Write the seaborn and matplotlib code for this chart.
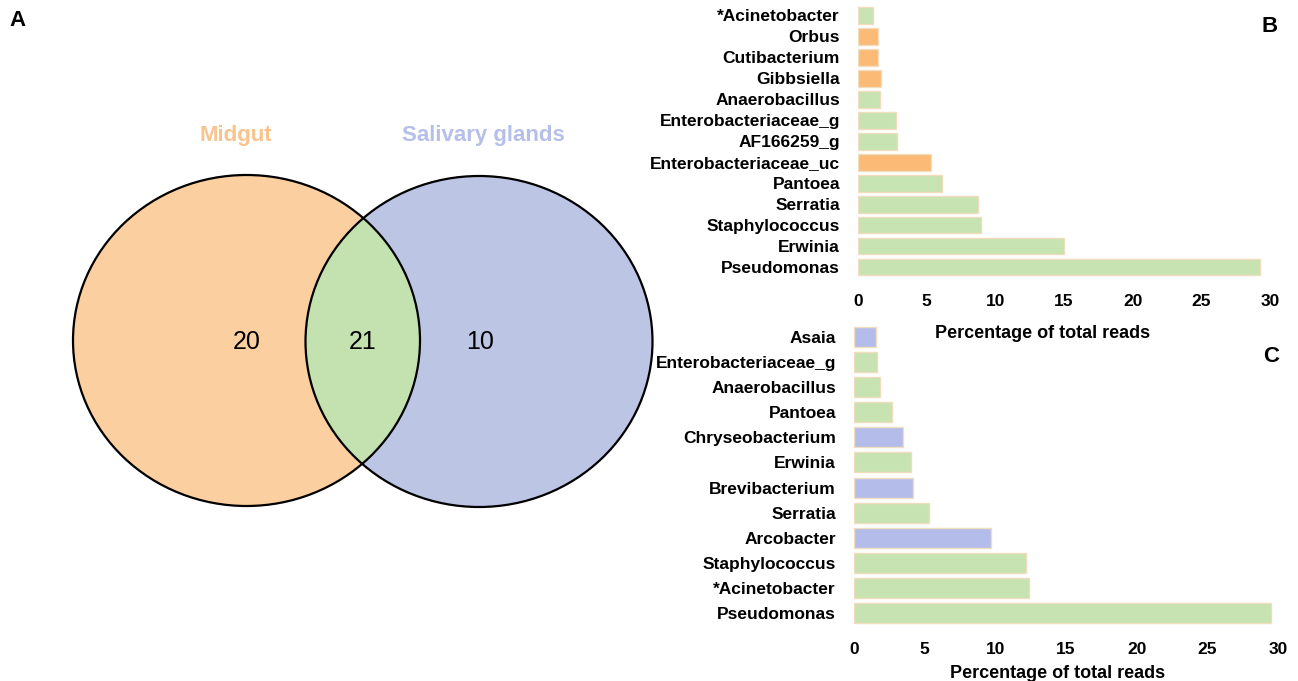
import numpy as np
import seaborn as sns
import matplotlib.pyplot as plt
from matplotlib.patches import Ellipse

# Venn counts
venn_sets = ["Midgut", "Salivary glands"]
venn_counts = [20, 21, 10]  # midgut only, shared, salivary only

# Panel B: midgut genera
b_genus = ["*Acinetobacter", "Orbus", "Cutibacterium", "Gibbsiella", "Anaerobacillus",
           "Enterobacteriaceae_g", "AF166259_g", "Enterobacteriaceae_uc", "Pantoea",
           "Serratia", "Staphylococcus", "Erwinia", "Pseudomonas"]
b_pct = [1.07, 1.42, 1.48, 1.64, 1.62, 2.8, 2.82, 5.28, 6.1, 8.74, 8.99, 15.0, 29.3]
b_group = ["shared", "midgut", "midgut", "midgut", "shared", "shared", "shared",
           "midgut", "shared", "shared", "shared", "shared", "shared"]

# Panel C: salivary gland genera
c_genus = ["Asaia", "Enterobacteriaceae_g", "Anaerobacillus", "Pantoea", "Chryseobacterium",
           "Erwinia", "Brevibacterium", "Serratia", "Arcobacter", "Staphylococcus",
           "*Acinetobacter", "Pseudomonas"]
c_pct = [1.54, 1.63, 1.84, 2.67, 3.5, 4.0, 4.15, 5.3, 9.66, 12.18, 12.4, 29.47]
c_group = ["salivary", "shared", "shared", "shared", "salivary", "shared", "salivary",
           "shared", "salivary", "shared", "shared", "shared"]

bar_colors = {"shared": "#C6E3B1", "midgut": "#FBBA75", "salivary": "#B4BDEA"}

sns.set_theme(style="white")
plt.rcParams['font.family'] = ['Liberation Sans', 'DejaVu Sans']
plt.rcParams.update({"text.color": "black", "axes.labelcolor": "black",
                     "xtick.color": "black", "ytick.color": "black"})

W, H = 1298, 681
fig = plt.figure(figsize=(W / 100, H / 100), dpi=100)

# ---- A: Venn diagram (pixel coordinates) ----
ax_v = fig.add_axes([0, 0, 670 / W, 1])
ax_v.set_xlim(0, 670)
ax_v.set_ylim(H, 0)
ax_v.axis("off")
left = Ellipse((246.5, 340.5), 347, 331, facecolor="#FBCF9F", edgecolor="none")
right = Ellipse((479, 341.5), 346, 331, facecolor="#BDC5E5", edgecolor="none")
ax_v.add_patch(left)
ax_v.add_patch(right)
lens = Ellipse((479, 341.5), 346, 331, facecolor="#C3E2AF", edgecolor="none")
ax_v.add_patch(lens)
lens.set_clip_path(left)
for c in [(246.5, 340.5), (479, 341.5)]:
    ax_v.add_patch(Ellipse(c, 347, 331, facecolor="none", edgecolor="black", lw=1.6))
ax_v.text(235.5, 135, venn_sets[0], color="#F8C38C", fontsize=16, fontweight="bold",
          ha="center", va="center")
ax_v.text(483, 135, venn_sets[1], color="#B6BFE9", fontsize=16, fontweight="bold",
          ha="center", va="center")
for xpos, n in zip([247, 362.5, 480], venn_counts):
    ax_v.text(xpos, 342, str(n), fontsize=18, ha="center", va="center")
fig.text(18 / W, 1 - 20 / H, "A", fontsize=16, fontweight="bold", ha="center", va="center")


def bar_panel(ax, genus, pct, group, xlab_x, xlab_y):
    sns.barplot(x=pct, y=genus, hue=group, palette=bar_colors, orient="h", width=0.8,
                saturation=1, edgecolor="#F1DDBE", linewidth=1, legend=False, ax=ax)
    ax.patch.set_alpha(0)
    ax.set_xlim(0, 30)
    ax.set_xticks([0, 5, 10, 15, 20, 25, 30])
    sns.despine(ax=ax, left=True, bottom=True)
    ax.tick_params(axis="both", length=0, labelsize=12.5)
    ax.tick_params(axis="y", pad=13)
    ax.tick_params(axis="x", pad=12)
    for t in ax.get_xticklabels() + ax.get_yticklabels():
        t.set_fontweight("bold")
    ax.set_ylabel("")
    ax.set_xlabel("Percentage of total reads", fontsize=13, fontweight="bold", va="center")
    ax.xaxis.set_label_coords(xlab_x, xlab_y)


# ---- B ----
ax_b = fig.add_axes([858 / W, 1 - 277.5 / H, 412 / W, 272.5 / H])
bar_panel(ax_b, b_genus, b_pct, b_group, 0.447, -0.207)
fig.text(1270 / W, 1 - 27 / H, "B", fontsize=16, fontweight="bold", ha="center", va="center")

# ---- C ----
ax_c = fig.add_axes([854 / W, 1 - 625.5 / H, 424 / W, 301 / H])
bar_panel(ax_c, c_genus, c_pct, c_group, 0.479, -0.158)
fig.text(1271 / W, 1 - 357 / H, "C", fontsize=16, fontweight="bold", ha="center", va="center")

fig.savefig("out.png", dpi=100)
